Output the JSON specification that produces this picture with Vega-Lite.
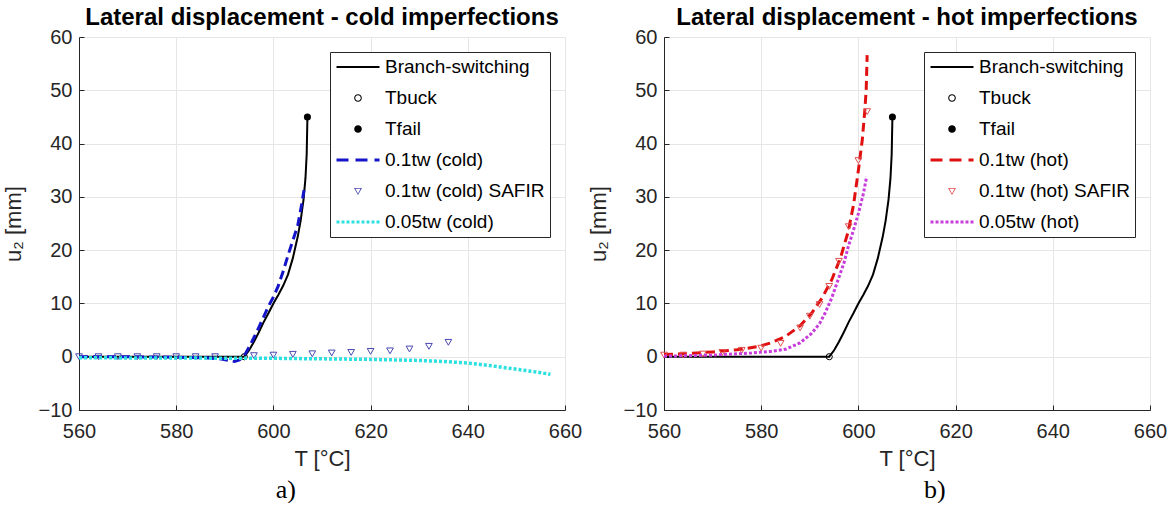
{
  "$schema": "https://vega.github.io/schema/vega-lite/v6.json",
  "background": "white",
  "padding": {"left": 2, "top": 6, "right": 0, "bottom": 0},
  "config": {
    "font": "Liberation Sans",
    "view": {"stroke": null},
    "axis": {
      "domainColor": "#262626", "domainWidth": 1,
      "tickColor": "#262626", "tickSize": -5, "tickWidth": 1,
      "labelColor": "#262626", "labelFont": "Liberation Sans", "labelFontSize": 20, "labelPadding": 12,
      "titleColor": "#262626", "titleFont": "Liberation Sans", "titleFontSize": 22, "titleFontWeight": "normal",
      "gridColor": "#e6e6e6", "gridWidth": 1
    },
    "axisY": {"titlePadding": 13, "labelFlush": false},
    "axisX": {"titlePadding": 7, "labelPadding": 16, "labelFlush": false},
    "title": {"font": "Liberation Sans", "fontSize": 24, "fontWeight": "bold", "color": "black", "anchor": "middle"}
  },
  "datasets": {
    "cold": [
      {"series": "Branch-switching", "T": 560, "u": 0},
      {"series": "Branch-switching", "T": 594, "u": 0},
      {"series": "Branch-switching", "T": 595, "u": 1.2},
      {"series": "Branch-switching", "T": 596, "u": 2.8},
      {"series": "Branch-switching", "T": 597, "u": 4.6},
      {"series": "Branch-switching", "T": 598, "u": 6.5},
      {"series": "Branch-switching", "T": 599, "u": 8.2},
      {"series": "Branch-switching", "T": 600, "u": 10},
      {"series": "Branch-switching", "T": 601, "u": 11.6},
      {"series": "Branch-switching", "T": 602, "u": 13.3},
      {"series": "Branch-switching", "T": 603, "u": 15.4},
      {"series": "Branch-switching", "T": 604, "u": 18.5},
      {"series": "Branch-switching", "T": 605, "u": 22.5},
      {"series": "Branch-switching", "T": 605.6, "u": 25.5},
      {"series": "Branch-switching", "T": 606.2, "u": 29.5},
      {"series": "Branch-switching", "T": 606.6, "u": 33.5},
      {"series": "Branch-switching", "T": 606.85, "u": 38},
      {"series": "Branch-switching", "T": 607, "u": 45},
      {"series": "Tbuck", "T": 594, "u": 0},
      {"series": "Tfail", "T": 607, "u": 45},
      {"series": "0.1tw (cold)", "T": 560, "u": 0},
      {"series": "0.1tw (cold)", "T": 570, "u": 0},
      {"series": "0.1tw (cold)", "T": 580, "u": -0.1},
      {"series": "0.1tw (cold)", "T": 586, "u": -0.2},
      {"series": "0.1tw (cold)", "T": 589, "u": -0.4},
      {"series": "0.1tw (cold)", "T": 591, "u": -0.7},
      {"series": "0.1tw (cold)", "T": 592, "u": -0.9},
      {"series": "0.1tw (cold)", "T": 593, "u": -0.6},
      {"series": "0.1tw (cold)", "T": 594, "u": 0.2},
      {"series": "0.1tw (cold)", "T": 595, "u": 1.8},
      {"series": "0.1tw (cold)", "T": 596, "u": 3.6},
      {"series": "0.1tw (cold)", "T": 597, "u": 5.5},
      {"series": "0.1tw (cold)", "T": 598, "u": 7.5},
      {"series": "0.1tw (cold)", "T": 599, "u": 9.5},
      {"series": "0.1tw (cold)", "T": 600, "u": 11.2},
      {"series": "0.1tw (cold)", "T": 601, "u": 13.3},
      {"series": "0.1tw (cold)", "T": 602, "u": 16},
      {"series": "0.1tw (cold)", "T": 603, "u": 19},
      {"series": "0.1tw (cold)", "T": 604, "u": 21.8},
      {"series": "0.1tw (cold)", "T": 605, "u": 24.6},
      {"series": "0.1tw (cold)", "T": 605.7, "u": 28},
      {"series": "0.1tw (cold)", "T": 606.3, "u": 31.3},
      {"series": "0.1tw (cold) SAFIR", "T": 560, "u": 0},
      {"series": "0.1tw (cold) SAFIR", "T": 564, "u": 0},
      {"series": "0.1tw (cold) SAFIR", "T": 568, "u": 0},
      {"series": "0.1tw (cold) SAFIR", "T": 572, "u": 0},
      {"series": "0.1tw (cold) SAFIR", "T": 576, "u": 0},
      {"series": "0.1tw (cold) SAFIR", "T": 580, "u": 0},
      {"series": "0.1tw (cold) SAFIR", "T": 584, "u": 0},
      {"series": "0.1tw (cold) SAFIR", "T": 588, "u": 0},
      {"series": "0.1tw (cold) SAFIR", "T": 596, "u": 0.2},
      {"series": "0.1tw (cold) SAFIR", "T": 600, "u": 0.3},
      {"series": "0.1tw (cold) SAFIR", "T": 604, "u": 0.45},
      {"series": "0.1tw (cold) SAFIR", "T": 608, "u": 0.55},
      {"series": "0.1tw (cold) SAFIR", "T": 612, "u": 0.7},
      {"series": "0.1tw (cold) SAFIR", "T": 616, "u": 0.8},
      {"series": "0.1tw (cold) SAFIR", "T": 620, "u": 1.0},
      {"series": "0.1tw (cold) SAFIR", "T": 624, "u": 1.1},
      {"series": "0.1tw (cold) SAFIR", "T": 628, "u": 1.45},
      {"series": "0.1tw (cold) SAFIR", "T": 632, "u": 1.95},
      {"series": "0.1tw (cold) SAFIR", "T": 636, "u": 2.7},
      {"series": "0.05tw (cold)", "T": 560, "u": -0.2},
      {"series": "0.05tw (cold)", "T": 580, "u": -0.25},
      {"series": "0.05tw (cold)", "T": 600, "u": -0.3},
      {"series": "0.05tw (cold)", "T": 610, "u": -0.4},
      {"series": "0.05tw (cold)", "T": 620, "u": -0.5},
      {"series": "0.05tw (cold)", "T": 630, "u": -0.7},
      {"series": "0.05tw (cold)", "T": 636, "u": -0.95},
      {"series": "0.05tw (cold)", "T": 640, "u": -1.2},
      {"series": "0.05tw (cold)", "T": 644, "u": -1.6},
      {"series": "0.05tw (cold)", "T": 648, "u": -2.1},
      {"series": "0.05tw (cold)", "T": 652, "u": -2.6},
      {"series": "0.05tw (cold)", "T": 655, "u": -3.0},
      {"series": "0.05tw (cold)", "T": 657, "u": -3.3}
    ],
    "hot": [
      {"series": "Branch-switching", "T": 560, "u": 0},
      {"series": "Branch-switching", "T": 594, "u": 0},
      {"series": "Branch-switching", "T": 595, "u": 1.2},
      {"series": "Branch-switching", "T": 596, "u": 2.8},
      {"series": "Branch-switching", "T": 597, "u": 4.6},
      {"series": "Branch-switching", "T": 598, "u": 6.5},
      {"series": "Branch-switching", "T": 599, "u": 8.2},
      {"series": "Branch-switching", "T": 600, "u": 10},
      {"series": "Branch-switching", "T": 601, "u": 11.6},
      {"series": "Branch-switching", "T": 602, "u": 13.3},
      {"series": "Branch-switching", "T": 603, "u": 15.4},
      {"series": "Branch-switching", "T": 604, "u": 18.5},
      {"series": "Branch-switching", "T": 605, "u": 22.5},
      {"series": "Branch-switching", "T": 605.6, "u": 25.5},
      {"series": "Branch-switching", "T": 606.2, "u": 29.5},
      {"series": "Branch-switching", "T": 606.6, "u": 33.5},
      {"series": "Branch-switching", "T": 606.85, "u": 38},
      {"series": "Branch-switching", "T": 607, "u": 45},
      {"series": "Tbuck", "T": 594, "u": 0},
      {"series": "Tfail", "T": 607, "u": 45},
      {"series": "0.1tw (hot)", "T": 560, "u": 0.4},
      {"series": "0.1tw (hot)", "T": 565, "u": 0.6},
      {"series": "0.1tw (hot)", "T": 570, "u": 0.9},
      {"series": "0.1tw (hot)", "T": 575, "u": 1.3},
      {"series": "0.1tw (hot)", "T": 579.4, "u": 1.9},
      {"series": "0.1tw (hot)", "T": 582, "u": 2.6},
      {"series": "0.1tw (hot)", "T": 585, "u": 3.8},
      {"series": "0.1tw (hot)", "T": 588, "u": 5.8},
      {"series": "0.1tw (hot)", "T": 590.4, "u": 8.2},
      {"series": "0.1tw (hot)", "T": 592.5, "u": 11},
      {"series": "0.1tw (hot)", "T": 594.5, "u": 14.4},
      {"series": "0.1tw (hot)", "T": 596.3, "u": 18.5},
      {"series": "0.1tw (hot)", "T": 597.9, "u": 23.5},
      {"series": "0.1tw (hot)", "T": 599, "u": 28.5},
      {"series": "0.1tw (hot)", "T": 600, "u": 35},
      {"series": "0.1tw (hot)", "T": 600.8, "u": 40.7},
      {"series": "0.1tw (hot)", "T": 601.3, "u": 46},
      {"series": "0.1tw (hot)", "T": 601.6, "u": 50},
      {"series": "0.1tw (hot)", "T": 601.8, "u": 56.6},
      {"series": "0.1tw (hot) SAFIR", "T": 560, "u": 0.3},
      {"series": "0.1tw (hot) SAFIR", "T": 564, "u": 0.3},
      {"series": "0.1tw (hot) SAFIR", "T": 568, "u": 0.5},
      {"series": "0.1tw (hot) SAFIR", "T": 572, "u": 0.8},
      {"series": "0.1tw (hot) SAFIR", "T": 576, "u": 1.2},
      {"series": "0.1tw (hot) SAFIR", "T": 580, "u": 1.6},
      {"series": "0.1tw (hot) SAFIR", "T": 584, "u": 2.5},
      {"series": "0.1tw (hot) SAFIR", "T": 588, "u": 5.4},
      {"series": "0.1tw (hot) SAFIR", "T": 590, "u": 7.6},
      {"series": "0.1tw (hot) SAFIR", "T": 592, "u": 9.8},
      {"series": "0.1tw (hot) SAFIR", "T": 594, "u": 13.2},
      {"series": "0.1tw (hot) SAFIR", "T": 596, "u": 17.9},
      {"series": "0.1tw (hot) SAFIR", "T": 598, "u": 24.4},
      {"series": "0.1tw (hot) SAFIR", "T": 600, "u": 36.8},
      {"series": "0.1tw (hot) SAFIR", "T": 601.8, "u": 46},
      {"series": "0.05tw (hot)", "T": 560, "u": 0.1},
      {"series": "0.05tw (hot)", "T": 570, "u": 0.3},
      {"series": "0.05tw (hot)", "T": 578, "u": 0.7},
      {"series": "0.05tw (hot)", "T": 582, "u": 1.0},
      {"series": "0.05tw (hot)", "T": 585, "u": 1.4},
      {"series": "0.05tw (hot)", "T": 588, "u": 2.6},
      {"series": "0.05tw (hot)", "T": 590.4, "u": 4.4},
      {"series": "0.05tw (hot)", "T": 592, "u": 6.2},
      {"series": "0.05tw (hot)", "T": 593.1, "u": 8.1},
      {"series": "0.05tw (hot)", "T": 594.5, "u": 11},
      {"series": "0.05tw (hot)", "T": 595.8, "u": 14.4},
      {"series": "0.05tw (hot)", "T": 597, "u": 17.5},
      {"series": "0.05tw (hot)", "T": 597.9, "u": 20.6},
      {"series": "0.05tw (hot)", "T": 599, "u": 23.8},
      {"series": "0.05tw (hot)", "T": 600, "u": 26.9},
      {"series": "0.05tw (hot)", "T": 601, "u": 30.5},
      {"series": "0.05tw (hot)", "T": 601.7, "u": 33.8}
    ]
  },
  "spacing": 5,
  "resolve": {"scale": {"color": "independent", "opacity": "independent", "x": "independent", "y": "independent"}, "legend": {"color": "independent", "opacity": "independent"}},
  "hconcat": [
    {
      "title": {"text": "a)", "orient": "bottom", "anchor": "middle", "font": "Liberation Serif", "fontSize": 26, "fontWeight": "normal", "color": "black", "dx": -6, "offset": 8},
      "resolve": {"scale": {"color": "independent", "opacity": "independent", "x": "independent", "y": "independent"}, "legend": {"color": "independent", "opacity": "independent"}},
      "vconcat": [
        {
          "width": 486,
          "height": 373,
          "title": {"text": "Lateral displacement - cold imperfections", "offset": -3},
          "data": {"name": "cold"},
          "encoding": {
            "x": {"field": "T", "type": "quantitative", "scale": {"domain": [560, 660], "nice": false, "zero": false}, "axis": {"title": "T [°C]", "values": [560, 580, 600, 620, 640, 660]}},
            "y": {"field": "u", "type": "quantitative", "scale": {"domain": [-10, 60], "nice": false, "zero": false}, "axis": {"title": "u₂ [mm]", "values": [-10, 0, 10, 20, 30, 40, 50, 60]}},
            "color": {
              "field": "series", "type": "nominal", "legend": null,
              "scale": {"domain": ["0.05tw (cold)", "0.1tw (cold) SAFIR", "0.1tw (cold)", "Tfail", "Tbuck", "Branch-switching"], "range": ["#2de0e0", "#4848b0", "#1414c8", "black", "black", "black"]}
            },
            "opacity": {
              "field": "series", "type": "nominal",
              "scale": {"domain": ["Branch-switching", "Tbuck", "Tfail", "0.1tw (cold)", "0.1tw (cold) SAFIR", "0.05tw (cold)"], "range": [1, 1]},
              "legend": {
                "title": null, "orient": "top-right", "offset": 15, "padding": 5,
                "strokeColor": "#262626", "fillColor": "white", "cornerRadius": 0,
                "labelFont": "Liberation Sans", "labelFontSize": 19, "labelColor": "black", "labelLimit": 400, "labelOffset": 4,
                "symbolSize": 1849, "symbolStrokeWidth": 3, "clipHeight": 20, "rowPadding": 11,
                "encode": {
                  "symbols": {
                    "update": {
                      "shape": {"signal": "datum.value == 'Branch-switching' ? 'M-1,-0.047L1,-0.047L1,0.047L-1,0.047Z' : (datum.value == 'Tbuck' ? 'M0.177,0A0.177,0.177,0,1,1,-0.177,0A0.177,0.177,0,1,1,0.177,0ZM0.13,0A0.13,0.13,0,1,0,-0.13,0A0.13,0.13,0,1,0,0.13,0Z' : (datum.value == 'Tfail' ? 'M0.177,0A0.177,0.177,0,1,1,-0.177,0A0.177,0.177,0,1,1,0.177,0Z' : (indexof(datum.value, 'SAFIR') >= 0 ? 'M-0.186,-0.14L0.186,-0.14L0,0.186ZM-0.12,-0.1L0,0.115L0.12,-0.1Z' : 'stroke')))"},
                      "fill": {"signal": "datum.value == '0.1tw (cold) SAFIR' ? '#4848b0' : (indexof(datum.value, '0.') == 0 ? 'transparent' : 'black')"},
                      "stroke": {"signal": "datum.value == '0.1tw (cold)' ? '#1414c8' : (datum.value == '0.05tw (cold)' ? '#2de0e0' : 'transparent')"},
                      "strokeDash": {"signal": "datum.value == '0.05tw (cold)' ? [3, 2] : [12, 7]"}
                    }
                  }
                }
              }
            }
          },
          "layer": [
            {"transform": [{"filter": "datum.series == 'Branch-switching'"}], "mark": {"type": "line", "strokeWidth": 2}},
            {"transform": [{"filter": "datum.series == 'Tbuck'"}], "mark": {"type": "point", "shape": "circle", "filled": false, "size": 38, "strokeWidth": 1}},
            {"transform": [{"filter": "datum.series == 'Tfail'"}], "mark": {"type": "point", "shape": "circle", "filled": true, "size": 50}},
            {"transform": [{"filter": "datum.series == '0.1tw (cold)'"}], "mark": {"type": "line", "strokeWidth": 3, "strokeDash": [9, 5]}},
            {"transform": [{"filter": "datum.series == '0.1tw (cold) SAFIR'"}], "mark": {"type": "point", "shape": "triangle-down", "filled": false, "size": 45, "strokeWidth": 1}},
            {"transform": [{"filter": "datum.series == '0.05tw (cold)'"}], "mark": {"type": "line", "strokeWidth": 3.5, "strokeDash": [3, 2]}}
          ]
        }
      ]
    },
    {
      "title": {"text": "b)", "orient": "bottom", "anchor": "middle", "font": "Liberation Serif", "fontSize": 26, "fontWeight": "normal", "color": "black", "dx": 58, "offset": 8},
      "resolve": {"scale": {"color": "independent", "opacity": "independent", "x": "independent", "y": "independent"}, "legend": {"color": "independent", "opacity": "independent"}},
      "vconcat": [
        {
          "width": 486,
          "height": 373,
          "title": {"text": "Lateral displacement - hot imperfections", "offset": -3},
          "data": {"name": "hot"},
          "encoding": {
            "x": {"field": "T", "type": "quantitative", "scale": {"domain": [560, 660], "nice": false, "zero": false}, "axis": {"title": "T [°C]", "values": [560, 580, 600, 620, 640, 660]}},
            "y": {"field": "u", "type": "quantitative", "scale": {"domain": [-10, 60], "nice": false, "zero": false}, "axis": {"title": "u₂ [mm]", "values": [-10, 0, 10, 20, 30, 40, 50, 60]}},
            "color": {
              "field": "series", "type": "nominal", "legend": null,
              "scale": {"domain": ["0.05tw (hot)", "0.1tw (hot) SAFIR", "0.1tw (hot)", "Tfail", "Tbuck", "Branch-switching"], "range": ["#c83cdc", "#e05050", "#e01010", "black", "black", "black"]}
            },
            "opacity": {
              "field": "series", "type": "nominal",
              "scale": {"domain": ["Branch-switching", "Tbuck", "Tfail", "0.1tw (hot)", "0.1tw (hot) SAFIR", "0.05tw (hot)"], "range": [1, 1]},
              "legend": {
                "title": null, "orient": "top-right", "offset": 15, "padding": 5,
                "strokeColor": "#262626", "fillColor": "white", "cornerRadius": 0,
                "labelFont": "Liberation Sans", "labelFontSize": 19, "labelColor": "black", "labelLimit": 400, "labelOffset": 4,
                "symbolSize": 1849, "symbolStrokeWidth": 3, "clipHeight": 20, "rowPadding": 11,
                "encode": {
                  "symbols": {
                    "update": {
                      "shape": {"signal": "datum.value == 'Branch-switching' ? 'M-1,-0.047L1,-0.047L1,0.047L-1,0.047Z' : (datum.value == 'Tbuck' ? 'M0.177,0A0.177,0.177,0,1,1,-0.177,0A0.177,0.177,0,1,1,0.177,0ZM0.13,0A0.13,0.13,0,1,0,-0.13,0A0.13,0.13,0,1,0,0.13,0Z' : (datum.value == 'Tfail' ? 'M0.177,0A0.177,0.177,0,1,1,-0.177,0A0.177,0.177,0,1,1,0.177,0Z' : (indexof(datum.value, 'SAFIR') >= 0 ? 'M-0.186,-0.14L0.186,-0.14L0,0.186ZM-0.12,-0.1L0,0.115L0.12,-0.1Z' : 'stroke')))"},
                      "fill": {"signal": "datum.value == '0.1tw (hot) SAFIR' ? '#e05050' : (indexof(datum.value, '0.') == 0 ? 'transparent' : 'black')"},
                      "stroke": {"signal": "datum.value == '0.1tw (hot)' ? '#e01010' : (datum.value == '0.05tw (hot)' ? '#c83cdc' : 'transparent')"},
                      "strokeDash": {"signal": "datum.value == '0.05tw (hot)' ? [3, 2] : [12, 7]"}
                    }
                  }
                }
              }
            }
          },
          "layer": [
            {"transform": [{"filter": "datum.series == 'Branch-switching'"}], "mark": {"type": "line", "strokeWidth": 2}},
            {"transform": [{"filter": "datum.series == 'Tbuck'"}], "mark": {"type": "point", "shape": "circle", "filled": false, "size": 38, "strokeWidth": 1}},
            {"transform": [{"filter": "datum.series == 'Tfail'"}], "mark": {"type": "point", "shape": "circle", "filled": true, "size": 50}},
            {"transform": [{"filter": "datum.series == '0.1tw (hot)'"}], "mark": {"type": "line", "strokeWidth": 3, "strokeDash": [9, 5]}},
            {"transform": [{"filter": "datum.series == '0.1tw (hot) SAFIR'"}], "mark": {"type": "point", "shape": "triangle-down", "filled": false, "size": 45, "strokeWidth": 1}},
            {"transform": [{"filter": "datum.series == '0.05tw (hot)'"}], "mark": {"type": "line", "strokeWidth": 3, "strokeDash": [3, 2]}}
          ]
        }
      ]
    }
  ]
}
